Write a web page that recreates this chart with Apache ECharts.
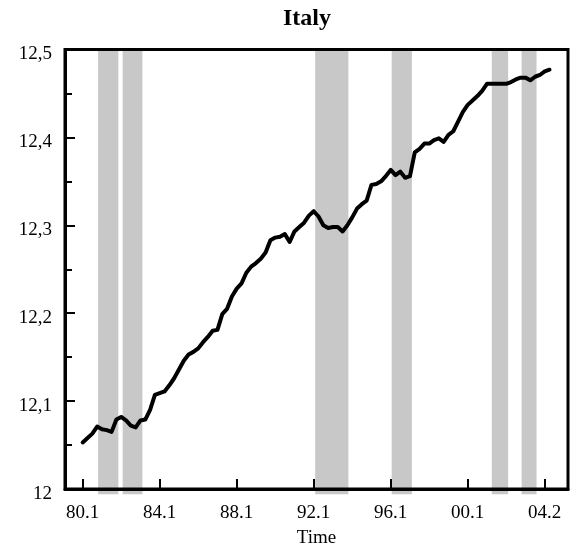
<!DOCTYPE html>
<html>
<head>
<meta charset="utf-8">
<script src="https://cdn.jsdelivr.net/npm/echarts@6/dist/echarts.min.js"></script>
<style>
  html, body { margin: 0; padding: 0; background: #fff; }
  #chart { width: 576px; height: 553px; }
</style>
</head>
<body>
<div id="chart"></div>
<script>
// Quarterly series, 1980Q1 .. 2004Q2 (index 0 = 80.1)
const quarterIndex = Array.from({ length: 98 }, (_, i) => i);
const values = [
  12.053, 12.058, 12.063, 12.071, 12.068, 12.067, 12.065, 12.079, 12.082, 12.078,
  12.072, 12.070, 12.078, 12.079, 12.090, 12.107, 12.109, 12.111, 12.118, 12.126,
  12.136, 12.146, 12.153, 12.156, 12.160, 12.167, 12.173, 12.180, 12.181, 12.199,
  12.205, 12.219, 12.228, 12.234, 12.246, 12.253, 12.257, 12.262, 12.269, 12.283,
  12.286, 12.287, 12.290, 12.281, 12.293, 12.298, 12.303, 12.311, 12.316, 12.310,
  12.300, 12.297, 12.298, 12.298, 12.293, 12.300, 12.309, 12.319, 12.324, 12.328,
  12.346, 12.347, 12.350, 12.356, 12.363, 12.357, 12.361, 12.354, 12.356, 12.383,
  12.387, 12.393, 12.393, 12.397, 12.399, 12.395, 12.403, 12.407, 12.418, 12.429,
  12.437, 12.442, 12.447, 12.453, 12.461, 12.461, 12.461, 12.461, 12.461, 12.463,
  12.466, 12.468, 12.468, 12.465, 12.469, 12.471, 12.475, 12.477
];

// Shaded periods, as [start, end] in quarter index units
const bandStarts = [3.2, 8.3, 48.3, 64.2, 85.0, 91.2];
const bandEnds   = [7.4, 12.4, 55.2, 68.4, 88.4, 94.3];

// X tick positions and their labels
const xTickPos = [0, 16, 32, 48, 64, 80, 96];
const xTickLabels = ['80.1', '84.1', '88.1', '92.1', '96.1', '00.1', '04.2'];

// Y ticks
const yTickValues = [12, 12.1, 12.2, 12.3, 12.4, 12.5];
const yTickLabels = ['12', '12,1', '12,2', '12,3', '12,4', '12,5'];

const FONT = '"Liberation Serif", "Times New Roman", serif';

const chart = echarts.init(document.getElementById('chart'), null, { renderer: 'canvas' });

const lineData = quarterIndex.map((q, i) => [q, values[i]]);
const bandData = bandStarts.map((s, i) => [s, bandEnds[i]]);

chart.setOption({
  animation: false,
  backgroundColor: '#fff',
  title: {
    text: 'Italy',
    left: 283,
    top: 7,
    padding: 0,
    textStyle: { fontFamily: FONT, fontSize: 24, fontWeight: 'bold', color: '#000' }
  },
  grid: {
    left: 65, right: 8, top: 49.5, bottom: 63,
    show: true, borderColor: '#000', borderWidth: 3, backgroundColor: 'transparent',
    z: 10
  },
  xAxis: {
    type: 'value',
    min: -3.68, max: 100.84,
    z: 10,
    name: 'Time',
    nameLocation: 'middle',
    nameGap: 40,
    nameTextStyle: { fontFamily: FONT, fontSize: 19, color: '#000' },
    axisLine: { show: true, onZero: false, lineStyle: { color: '#000', width: 3 } },
    axisTick: { show: true, inside: true, length: 10, customValues: xTickPos,
                lineStyle: { color: '#000', width: 2 } },
    axisLabel: {
      show: true, customValues: xTickPos, margin: 15,
      fontFamily: FONT, fontSize: 19, color: '#000',
      formatter: v => xTickLabels[xTickPos.indexOf(Math.round(v))] || ''
    },
    splitLine: { show: false }
  },
  yAxis: {
    type: 'value',
    min: 12, max: 12.5, interval: 0.1,
    z: 10,
    axisLine: { show: true, onZero: false, lineStyle: { color: '#000', width: 3 } },
    axisTick: { show: true, inside: true, length: 10, lineStyle: { color: '#000', width: 2 } },
    minorTick: { show: true, splitNumber: 2, length: 7, lineStyle: { color: '#000', width: 2 } },
    axisLabel: {
      show: true, margin: 13, verticalAlign: 'top', lineHeight: 10,
      fontFamily: FONT, fontSize: 19, color: '#000',
      formatter: v => {
        const k = yTickValues.findIndex(t => Math.abs(t - v) < 1e-6);
        return k >= 0 ? yTickLabels[k] : '';
      }
    },
    splitLine: { show: false }
  },
  series: [
    {
      type: 'custom',
      z: 1,
      clip: false,
      silent: true,
      data: bandData,
      renderItem: (params, api) => {
        const p0 = api.coord([api.value(0), 12.5]);
        const p1 = api.coord([api.value(1), 11.994]);
        return {
          type: 'rect',
          shape: { x: p0[0], y: p0[1], width: p1[0] - p0[0], height: p1[1] - p0[1] },
          style: { fill: '#c8c8c8' }
        };
      }
    },
    {
      type: 'line',
      z: 3,
      data: lineData,
      showSymbol: false,
      symbol: 'none',
      lineStyle: { color: '#000', width: 4, cap: 'round', join: 'round' }
    }
  ]
});
</script>
</body>
</html>
